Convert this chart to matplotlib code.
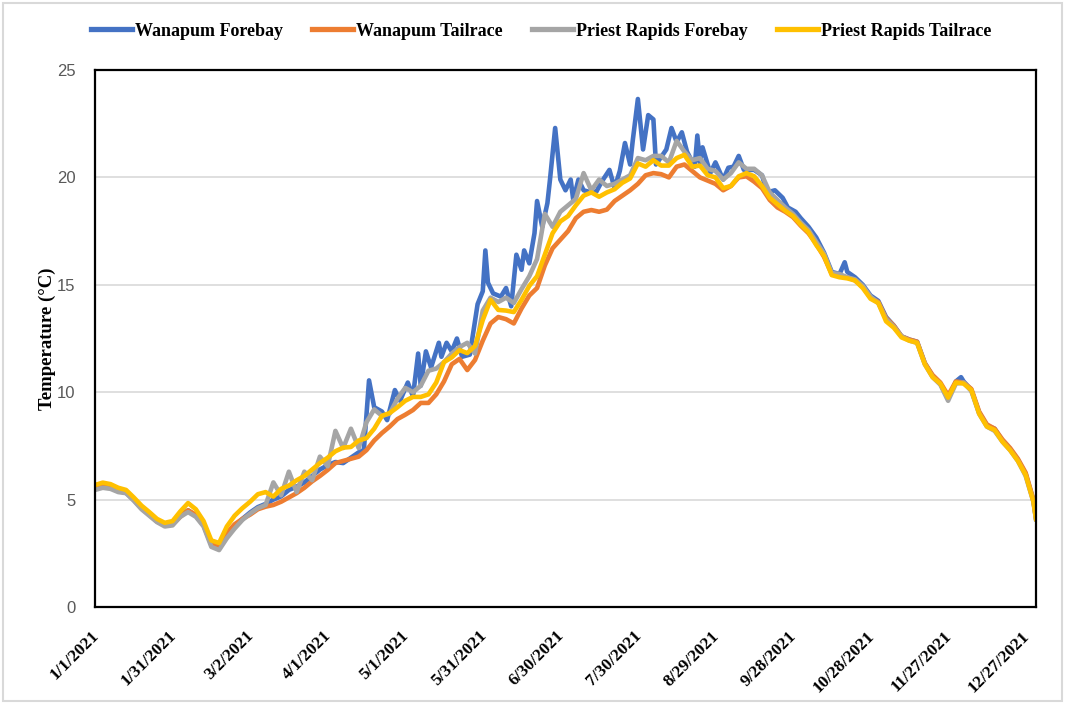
import numpy as np
import pandas as pd
import matplotlib
matplotlib.use("Agg")
from matplotlib import pyplot as plt
from matplotlib.patches import Rectangle
from matplotlib.transforms import ScaledTranslation

# day-of-year sample grid (every 3rd day) used by three of the series
days = np.append(np.arange(0, 364, 3), 364)

# Priest Rapids Tailrace
pr_tail = [5.68, 5.79, 5.72, 5.55, 5.45, 5.1, 4.72, 4.42, 4.1, 3.92,
           4.0, 4.45, 4.84, 4.55, 4.0, 3.1, 2.98, 3.75, 4.25, 4.6,
           4.9, 5.25, 5.35, 5.14, 5.5, 5.65, 5.9, 6.1, 6.4, 6.7,
           6.95, 7.25, 7.42, 7.45, 7.75, 7.86, 8.3, 8.9, 9.03, 9.3,
           9.6, 9.78, 9.78, 9.9, 10.45, 11.4, 11.62, 11.96, 11.82, 12.15,
           13.36, 14.3, 13.83, 13.8, 13.73, 14.3, 14.95, 15.4, 16.4, 17.4,
           17.95, 18.2, 18.7, 19.15, 19.3, 19.1, 19.3, 19.45, 19.75, 19.95,
           20.65, 20.5, 20.8, 20.55, 20.55, 20.9, 21.05, 20.5, 20.55, 20.1,
           20.0, 19.5, 19.6, 20.05, 20.2, 20.05, 19.6, 19.05, 18.75, 18.45,
           18.2, 17.8, 17.45, 16.85, 16.35, 15.45, 15.35, 15.3, 15.2, 14.85,
           14.35, 14.15, 13.3, 13.0, 12.55, 12.4, 12.3, 11.3, 10.7, 10.4,
           9.75, 10.45, 10.4, 10.1, 9.0, 8.4, 8.24, 7.7, 7.3, 6.8,
           6.15, 4.9, 4.1]

# Wanapum Tailrace
wan_tail = [5.55, 5.65, 5.6, 5.42, 5.35, 5.0, 4.6, 4.3, 3.98, 3.8,
            3.85, 4.2, 4.5, 4.3, 3.85, 3.0, 2.8, 3.45, 3.85, 4.1,
            4.3, 4.55, 4.67, 4.75, 4.9, 5.1, 5.3, 5.55, 5.85, 6.1,
            6.38, 6.7, 6.8, 6.9, 7.0, 7.3, 7.75, 8.1, 8.4, 8.75,
            8.95, 9.17, 9.5, 9.5, 9.9, 10.5, 11.3, 11.55, 11.03, 11.5,
            12.4, 13.2, 13.5, 13.4, 13.2, 13.9, 14.5, 14.85, 15.9, 16.7,
            17.1, 17.5, 18.1, 18.4, 18.48, 18.4, 18.5, 18.9, 19.15, 19.4,
            19.7, 20.1, 20.2, 20.15, 20.0, 20.5, 20.6, 20.3, 20.0, 19.85,
            19.7, 19.4, 19.6, 20.0, 20.05, 19.8, 19.5, 18.95, 18.6, 18.4,
            18.15, 17.75, 17.4, 16.9, 16.3, 15.5, 15.4, 15.35, 15.2, 14.9,
            14.4, 14.2, 13.45, 13.1, 12.6, 12.45, 12.35, 11.35, 10.8, 10.45,
            9.85, 10.5, 10.45, 10.15, 9.1, 8.5, 8.3, 7.8, 7.4, 6.9,
            6.25, 5.0, 4.15]

# Priest Rapids Forebay
pr_fore = [5.45, 5.55, 5.5, 5.35, 5.3, 4.95, 4.55, 4.25, 3.95, 3.75,
           3.8, 4.2, 4.42, 4.2, 3.75, 2.8, 2.65, 3.2, 3.65, 4.05,
           4.35, 4.6, 4.75, 5.8, 5.2, 6.3, 5.35, 6.3, 5.9, 7.0,
           6.55, 8.2, 7.4, 8.3, 7.4, 8.6, 9.2, 8.9, 9.0, 9.7,
           10.2, 10.0, 10.3, 11.0, 11.1, 11.4, 11.8, 12.1, 12.3, 11.8,
           13.8, 14.4, 14.2, 14.4, 14.15, 14.8, 15.4, 16.2, 18.3, 17.7,
           18.4, 18.7, 19.0, 20.2, 19.4, 19.9, 19.6, 19.7, 19.9, 20.1,
           20.9, 20.8, 21.0, 21.0, 20.7, 21.7, 21.2, 20.8, 20.9, 20.4,
           20.3, 19.9, 20.2, 20.7, 20.4, 20.4, 20.1, 19.3, 18.95, 18.6,
           18.3, 17.9, 17.55, 17.0, 16.45, 15.55, 15.5, 15.35, 15.25, 14.95,
           14.45, 14.15, 13.4, 13.05, 12.6, 12.4, 12.3, 11.3, 10.7, 10.35,
           9.6, 10.4, 10.45, 10.05, 9.0, 8.4, 8.2, 7.7, 7.3, 6.8,
           6.1, 4.9, 4.1]

# Wanapum Forebay (spiky, read at its own days)
wan_fore_days = [0, 3, 6, 9, 12, 15, 18, 21, 24, 27, 30, 33, 36, 39, 42, 45, 48, 51, 54, 57,
                 60, 63, 66, 69, 72, 75, 78, 81, 84, 87, 90, 93, 96, 99, 102, 104,
                 106, 108, 111, 113, 116, 118, 121, 123, 125, 126, 128, 130, 133, 134, 136, 138,
                 140, 142, 145, 148, 150, 151, 152, 154, 157, 159, 161, 163, 165, 166, 168, 170,
                 171, 173, 175, 176, 178, 180, 182, 184, 185, 187, 189, 192, 194, 196, 199, 201,
                 203, 205, 207, 208, 210, 212, 214, 216, 217, 219, 221, 223, 225, 227, 229, 232,
                 233, 234, 235, 238, 240, 243, 245, 247, 249, 251, 255, 258, 260, 263, 266, 268,
                 271, 273, 276, 279, 282, 285, 288, 290, 291, 294, 297, 300, 303, 306, 309, 312,
                 315, 318, 321, 324, 327, 330, 333, 335, 336, 339, 342, 345, 348, 351, 354, 357,
                 360, 363, 364]
wan_fore = [5.5, 5.6, 5.55, 5.4, 5.32, 4.98, 4.6, 4.3, 4.0, 3.8, 3.85, 4.25, 4.5, 4.25, 3.8, 2.9, 2.75, 3.35, 3.75, 4.1,
            4.4, 4.65, 4.8, 5.0, 5.15, 5.45, 5.6, 5.8, 6.1, 6.4, 6.6, 6.75, 6.7, 6.95, 7.2, 7.3,
            10.55, 9.3, 9.1, 8.7, 10.1, 9.6, 10.45, 9.8, 11.8, 10.3, 11.9, 11.15, 12.3, 11.65, 12.3, 11.9,
            12.5, 11.65, 11.75, 14.1, 14.7, 16.6, 15.1, 14.6, 14.45, 14.85, 14.0, 16.4, 15.7, 16.6, 16.0, 17.4,
            18.9, 17.7, 18.8, 19.9, 22.3, 19.9, 19.4, 19.9, 18.95, 19.9, 19.4, 19.3, 19.35, 19.8, 20.35, 19.5,
            20.3, 21.6, 20.6, 21.7, 23.65, 21.3, 22.9, 22.7, 20.6, 20.95, 21.3, 22.3, 21.65, 22.1, 21.2, 20.5,
            21.95, 20.7, 21.4, 20.2, 20.7, 19.9, 20.45, 20.5, 21.0, 20.35, 20.35, 20.1, 19.3, 19.4, 19.05, 18.6,
            18.4, 18.1, 17.7, 17.2, 16.5, 15.6, 15.5, 16.05, 15.6, 15.35, 15.0, 14.5, 14.25, 13.5, 13.1, 12.6,
            12.45, 12.35, 11.35, 10.75, 10.4, 9.7, 10.5, 10.7, 10.5, 10.1, 9.05, 8.45, 8.3, 7.75, 7.35, 6.85,
            6.2, 4.95, 4.1]

series_names = ["Wanapum Forebay", "Wanapum Tailrace", "Priest Rapids Forebay", "Priest Rapids Tailrace"]
colors = ["#4472C4", "#ED7D31", "#A5A5A5", "#FFC000"]

start = pd.Timestamp("2021-01-01")
grid_dates = start + pd.to_timedelta(days, unit="D")
wf_dates = start + pd.to_timedelta(wan_fore_days, unit="D")
tick_dates = pd.date_range("2021-01-01", periods=13, freq="30D")
tick_labels = [f"{d.month}/{d.day}/{d.year}" for d in tick_dates]

serif = "Liberation Serif"

fig = plt.figure(figsize=(10.65, 7.04), dpi=100)
ax = fig.add_axes([95/1065, 1-607/704, (1036-95)/1065, (607-70)/704])

ax.plot(wf_dates, wan_fore, color=colors[0], lw=3.3, label=series_names[0], solid_joinstyle="round")
ax.plot(grid_dates, wan_tail, color=colors[1], lw=3.3, label=series_names[1], solid_joinstyle="round")
ax.plot(grid_dates, pr_fore, color=colors[2], lw=3.3, label=series_names[2], solid_joinstyle="round")
ax.plot(grid_dates, pr_tail, color=colors[3], lw=3.3, label=series_names[3], solid_joinstyle="round")

ax.set_ylim(0, 25)
ax.set_xlim(start, start + pd.Timedelta(days=364))
ax.set_yticks(np.arange(0, 26, 5))
ax.yaxis.grid(True, color="#d9d9d9", lw=1.2)
ax.set_axisbelow(True)
ax.tick_params(axis="y", length=0, pad=14, labelsize=12, labelcolor="#595959")
for lab in ax.get_yticklabels():
    lab.set_fontfamily("Liberation Sans")

ax.set_xticks(tick_dates)
ax.set_xticklabels(tick_labels, rotation=45, ha="right", fontfamily=serif,
                   fontweight="bold", fontsize=12.5)
ax.tick_params(axis="x", length=0, pad=15)
shift = ScaledTranslation(7/100, 0, fig.dpi_scale_trans)
for lab in ax.get_xticklabels():
    lab.set_transform(lab.get_transform() + shift)

for s in ax.spines.values():
    s.set_color("black")
    s.set_linewidth(1.6)

ax.set_ylabel("Temperature (\u00b0C)", fontfamily=serif, fontweight="bold", fontsize=13.5, labelpad=1)

leg = fig.legend(loc="center", bbox_to_anchor=(541/1065, 1-31/704), ncol=4, frameon=False,
                 prop={"family": serif, "weight": "bold", "size": 13},
                 handlelength=2.3, handletextpad=0.15, columnspacing=1.6)
for h in leg.get_lines():
    h.set_linewidth(3.8)

fig.patches.append(Rectangle((0.003, 0.004), 0.994, 0.992, transform=fig.transFigure,
                             fill=False, edgecolor="#d9d9d9", lw=1.5))

fig.savefig("out.png", dpi=100)
